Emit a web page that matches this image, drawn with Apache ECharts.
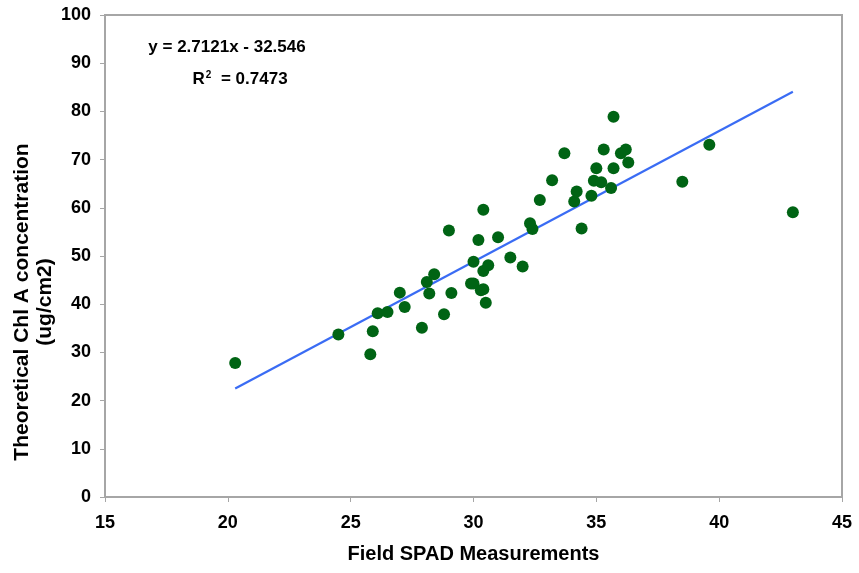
<!DOCTYPE html>
<html>
<head>
<meta charset="utf-8">
<script src="https://cdn.jsdelivr.net/npm/echarts@6/dist/echarts.min.js"></script>
<style>
html,body{margin:0;padding:0;background:#fff;}
#main{width:859px;height:573px;}
</style>
</head>
<body>
<div id="main"></div>
<script>
// SPAD readings (x) and chlorophyll A (y)
var spad = [20.3, 24.5, 25.9, 25.8, 26.1, 26.5, 27.0, 27.2, 27.9, 28.1,
	28.2, 28.4, 28.8, 29.0, 29.1, 29.9, 30.0, 30.0, 30.2, 30.3,
	30.4, 30.4, 30.4, 30.6, 30.5, 31.0, 31.5, 32.0, 32.3, 32.4,
	32.7, 33.2, 33.7, 34.1, 34.2, 34.4, 34.8, 34.9, 35.0, 35.2,
	35.3, 35.6, 35.7, 35.7, 36.0, 36.2, 36.3, 38.5, 39.6, 43.0];
var chlA = [27.8, 33.7, 34.4, 29.6, 38.1, 38.4, 42.4, 39.4, 35.1, 44.6,
	42.2, 46.2, 37.9, 55.3, 42.3, 44.3, 44.3, 48.8, 53.3, 42.9,
	43.1, 59.6, 46.9, 48.1, 40.3, 53.9, 49.7, 47.8, 56.8, 55.6,
	61.6, 65.7, 71.3, 61.3, 63.4, 55.7, 62.5, 65.6, 68.2, 65.3,
	72.1, 64.1, 78.9, 68.2, 71.3, 72.1, 69.4, 65.4, 73.1, 59.1];

// fitted trend as printed on the chart
var slope = 2.7121;
var intercept = -32.546;
var r2 = 0.7473;

var xTicks = [15, 20, 25, 30, 35, 40, 45];

var points = spad.map(function(x, i) { return [x, chlA[i]]; });
var xMin = Math.min.apply(null, spad);
var xMax = Math.max.apply(null, spad);
var trend = [[xMin, slope * xMin + intercept], [xMax, slope * xMax + intercept]];

var myChart = echarts.init(document.getElementById('main'));
var fam = '"Liberation Sans", Arial';
var tickFont = {fontFamily: fam, fontWeight: 'bold', fontSize: 18, color: '#000'};
var axisGray = '#a6a6a6';

option = {
	animation: false,
	backgroundColor: '#fff',
	grid: {left: 105, right: 17, top: 15, bottom: 76, show: true, borderColor: axisGray, borderWidth: 2},
	xAxis: {
		type: 'value', min: xTicks[0], max: xTicks[xTicks.length - 1], interval: 5,
		name: 'Field SPAD Measurements', nameLocation: 'middle', nameGap: 47,
		nameTextStyle: {fontFamily: fam, fontWeight: 'bold', fontSize: 20, color: '#000'},
		axisLine: {lineStyle: {color: axisGray, width: 2}},
		axisTick: {inside: false, length: 5, lineStyle: {color: axisGray}},
		axisLabel: Object.assign({margin: 17}, tickFont),
		splitLine: {show: false}
	},
	yAxis: {
		type: 'value', min: 0, max: 100, interval: 10,
		axisLine: {show: true, lineStyle: {color: axisGray, width: 2}},
		axisTick: {show: true, inside: false, length: 5, lineStyle: {color: axisGray}},
		axisLabel: Object.assign({margin: 14}, tickFont),
		splitLine: {show: false}
	},
	graphic: [
		{type: 'text', x: 34, y: 302, rotation: Math.PI / 2,
			style: {text: 'Theoretical Chl A concentration\n(ug/cm2)', textAlign: 'center', textVerticalAlign: 'middle',
				font: 'bold 21px ' + fam, fill: '#000', lineHeight: 23}},
		{type: 'text', x: 227, y: 47,
			style: {text: 'y = ' + slope + 'x - ' + Math.abs(intercept), textAlign: 'center', textVerticalAlign: 'middle',
				font: 'bold 17px ' + fam, fill: '#000'}},
		{type: 'text', x: 240, y: 79,
			style: {text: 'R{s|2} = ' + r2, textAlign: 'center', textVerticalAlign: 'middle',
				font: 'bold 17px ' + fam, fill: '#000',
				rich: {s: {fontSize: 10, fontWeight: 'bold', fontFamily: fam, verticalAlign: 'top', padding: [0, 5, 8, 1]}}}}
	],
	series: [
		{
			type: 'line', data: trend, symbol: 'none', silent: true,
			lineStyle: {color: '#3a6cf4', width: 2.2}, z: 2
		},
		{
			type: 'scatter', data: points, symbol: 'circle', symbolSize: 12,
			itemStyle: {color: '#006414', opacity: 1}, z: 3
		}
	]
};
myChart.setOption(option);
</script>
</body>
</html>
